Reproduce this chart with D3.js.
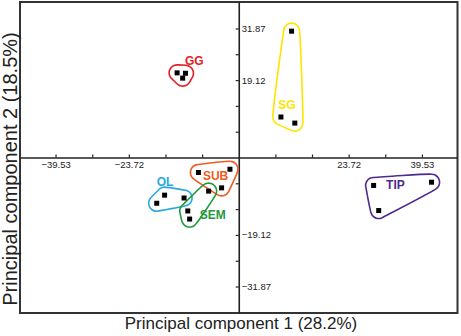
<!DOCTYPE html>
<html lang="en">
<head>
  <meta charset="UTF-8">
  <title>PCA groups</title>
  <script src="https://d3js.org/d3.v7.min.js"></script>
  <style>
    body { margin: 0; background: #fff; }
    svg { display: block; font-family: "Liberation Sans", Arial, sans-serif; }
    .tick text { fill: #222; font-size: 9.5px; }
  </style>
</head>
<body>
  <svg width="461" height="336"></svg>

  <script>
    // groups and their scores on PC1 / PC2
    const groups = ["GG", "SG", "SUB", "OL", "SEM", "TIP"];
    const colors = ["#e31e24", "#ffe400", "#f15a22", "#29a8e0", "#1f9a3c", "#4e2a8e"];
    const pc1 = [
      [-13.3, -11.5, -12.1],
      [11.4, 9.1, 12.1],
      [-8.7, -1.9, -3.7],
      [-16.0, -17.7, -11.8],
      [-6.5, -11.0, -10.6],
      [29.1, 41.6, 30.2]
    ];
    const pc2 = [
      [20.9, 20.8, 19.6],
      [31.2, 10.0, 8.5],
      [-3.7, -2.9, -7.5],
      [-9.3, -11.3, -10.0],
      [-8.3, -13.2, -15.2],
      [-6.9, -6.1, -13.1]
    ];
    // where each group name sits (PC units) and whether the outline wraps it
    const labelX = [-9.6, 10.4, -5.0, -15.9, -5.6, 33.8];
    const labelY = [24.0, 13.1, -4.6, -6.0, -14.0, -6.7];
    const labelInside = [false, true, true, false, false, true];

    const xTicks = [-39.53, -31.62, -23.72, -15.81, -7.91, 7.91, 15.81, 23.72, 31.62, 39.53];
    const yTicks = [-31.87, -25.50, -19.12, -12.75, -6.37, 6.37, 12.75, 19.12, 25.50, 31.87];
    const xLabeled = [-39.53, -23.72, 23.72, 39.53];
    const yLabeled = [-31.87, -19.12, 19.12, 31.87];

    const svg = d3.select("svg");
    const frame = {left: 20, right: 457.5, top: 2, bottom: 313};

    const x = d3.scaleLinear().domain([-47.2, 47.2]).range([frame.left, frame.right]);
    const y = d3.scaleLinear().domain([-38.4, 38.4]).range([frame.bottom, frame.top]);

    // frame
    svg.append("rect")
      .attr("x", frame.left).attr("y", frame.top)
      .attr("width", frame.right - frame.left).attr("height", frame.bottom - frame.top)
      .attr("fill", "none").attr("stroke", "#333").attr("stroke-width", 2);

    // axes through the origin
    const xAxis = d3.axisBottom(x)
      .tickValues(xTicks)
      .tickSizeInner(-3).tickSizeOuter(0).tickPadding(4)
      .tickFormat(d => xLabeled.includes(d) ? d3.format(".2f")(d) : "");
    const gx = svg.append("g").attr("transform", `translate(0,${y(0)})`).call(xAxis);

    const yAxis = d3.axisRight(y)
      .tickValues(yTicks)
      .tickSizeInner(-3).tickSizeOuter(0).tickPadding(3)
      .tickFormat(d => yLabeled.includes(d) ? d3.format(".2f")(d) : "");
    const gy = svg.append("g").attr("transform", `translate(${x(0)},0)`).call(yAxis);

    [gx, gy].forEach(g => {
      g.attr("font-family", null).attr("font-size", null);
      g.select(".domain").attr("stroke", "#222").attr("stroke-width", 1.6);
      g.selectAll(".tick line").attr("stroke", "#222").attr("stroke-width", 1.2);
    });

    // outlines: padded hull around the points, smoothed
    const pad = 8;
    const outline = d3.line().curve(d3.curveCatmullRomClosed);
    groups.forEach((g, i) => {
      const pts = pc1[i].map((v, j) => [x(v), y(pc2[i][j])]);
      if (labelInside[i]) pts.push([x(labelX[i]), y(labelY[i])]);
      const ring = [];
      pts.forEach(p => {
        for (let k = 0; k < 20; k++) {
          const a = k / 20 * 2 * Math.PI;
          ring.push([p[0] + pad * Math.cos(a), p[1] + pad * Math.sin(a)]);
        }
      });
      const hull = d3.polygonHull(ring);
      svg.append("path")
        .attr("d", outline(hull))
        .attr("fill", "none")
        .attr("stroke", colors[i])
        .attr("stroke-width", 1.6);
    });

    // points
    groups.forEach((g, i) => {
      svg.append("g").selectAll("rect")
        .data(pc1[i].map((v, j) => [v, pc2[i][j]]))
        .enter().append("rect")
          .attr("x", d => x(d[0]) - 2.5)
          .attr("y", d => y(d[1]) - 2.5)
          .attr("width", 5).attr("height", 5)
          .attr("fill", "#000");
    });

    // group names
    svg.append("g").selectAll("text")
      .data(groups)
      .enter().append("text")
        .attr("x", (d, i) => x(labelX[i]))
        .attr("y", (d, i) => y(labelY[i]))
        .attr("dy", "0.36em")
        .attr("text-anchor", "middle")
        .attr("font-size", 12)
        .attr("font-weight", "bold")
        .attr("fill", (d, i) => colors[i])
        .text(d => d);

    // axis titles
    svg.append("text")
      .attr("x", 241).attr("y", 329)
      .attr("text-anchor", "middle")
      .attr("font-size", 17)
      .attr("fill", "#222")
      .text("Principal component 1 (28.2%)");

    svg.append("text")
      .attr("transform", "translate(17,169) rotate(-90)")
      .attr("text-anchor", "middle")
      .attr("font-size", 20)
      .attr("fill", "#222")
      .text("Principal component 2 (18.5%)");
  </script>
</body>
</html>
